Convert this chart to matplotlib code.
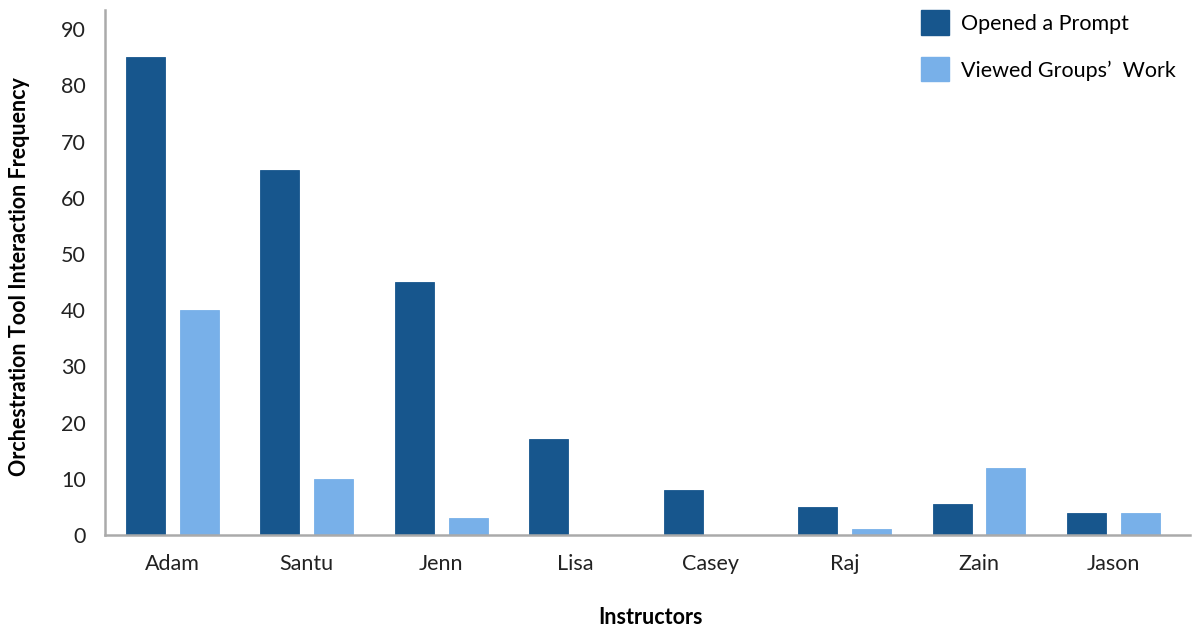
import numpy as np
import matplotlib.pyplot as plt
from matplotlib.patches import Patch

plt.rcParams['font.family'] = ['Lato', 'DejaVu Sans']

# Data
instructors = ["Adam", "Santu", "Jenn", "Lisa", "Casey", "Raj", "Zain", "Jason"]
opened_prompt = [85, 65, 45, 17, 8, 5, 5.5, 4]
viewed_work = [40, 10, 3, 0, 0, 1, 12, 4]

dark = "#17568D"
light = "#78B0E9"

fig = plt.figure(figsize=(11.92, 6.28), dpi=100)
ax = fig.add_axes([105 / 1192, (628 - 535) / 628, (1190 - 105) / 1192, (535 - 10) / 628])

x = np.arange(len(instructors))
w = 0.29
ax.bar(x - 0.2, opened_prompt, width=w, color=dark, edgecolor=dark, linewidth=0.6)
ax.bar(x + 0.2, viewed_work, width=w, color=light, edgecolor=light, linewidth=0.6)

ax.set_xlim(-0.5, 7.57)
ax.set_ylim(0, 93.4)
ax.set_yticks(range(0, 91, 10))
ax.set_xticks(x)
ax.set_xticklabels(instructors)
ax.tick_params(axis='both', length=0, labelsize=15.5, colors="#222222")
ax.tick_params(axis='x', pad=14)
ax.tick_params(axis='y', pad=14)

for s in ["top", "right"]:
    ax.spines[s].set_visible(False)
for s in ["left", "bottom"]:
    ax.spines[s].set_color("#aaaaaa")
    ax.spines[s].set_linewidth(1.8)

fig.text(20 / 1192, 1 - 277 / 628, "Orchestration Tool Interaction Frequency",
         rotation=90, ha="center", va="center", fontsize=15.5, fontweight="bold")
fig.text(651 / 1192, 1 - 618 / 628, "Instructors", ha="center", va="center",
         fontsize=15.5, fontweight="bold")

handles = [Patch(color=dark, label="Opened a Prompt"),
           Patch(color=light, label="Viewed Groups\u2019  Work")]
ax.legend(handles=handles, loc="upper right", bbox_to_anchor=(1.005, 1.036),
          frameon=False, fontsize=15.5, handlelength=1.3, handleheight=1.35,
          labelspacing=1.05, handletextpad=0.55)

fig.savefig("out.png", dpi=100)
